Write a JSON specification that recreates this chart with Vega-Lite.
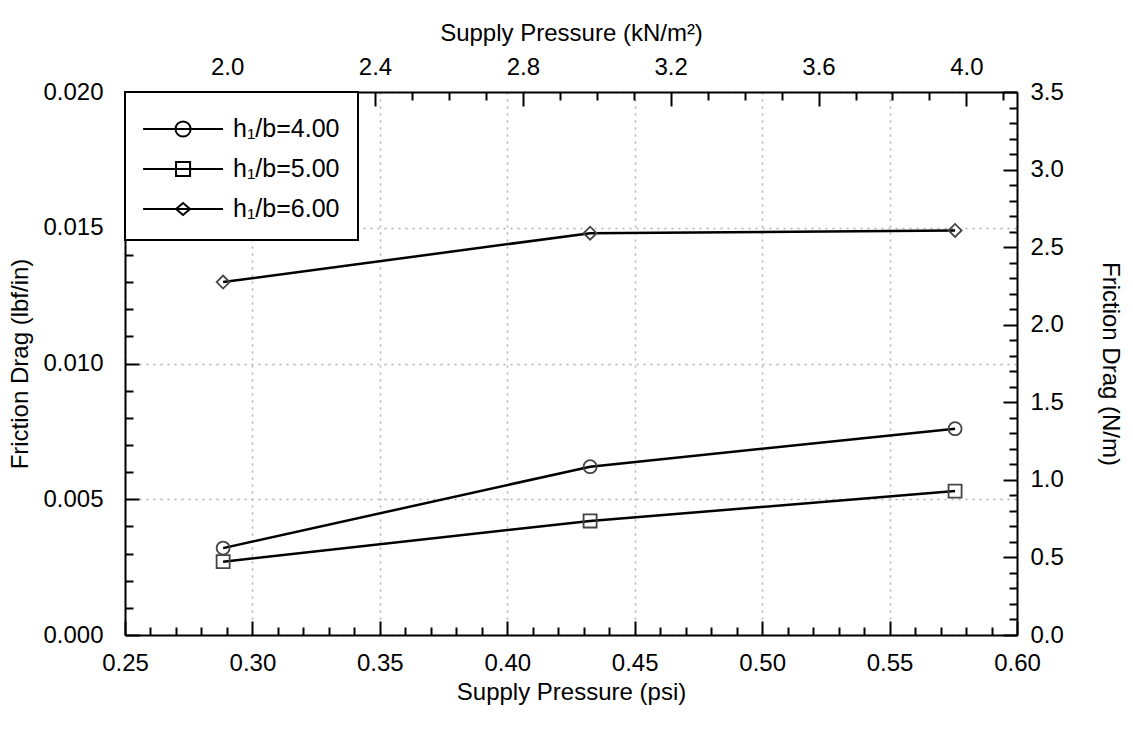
{
  "$schema": "https://vega.github.io/schema/vega-lite/v6.json",
  "width": 892,
  "height": 543,
  "autosize": {"type": "none"},
  "padding": {"left": 125, "top": 92, "right": 116, "bottom": 98},
  "background": "white",
  "config": {
    "view": {"stroke": null},
    "font": "Liberation Sans",
    "legend": {"strokeWidth": 2},
    "axis": {
      "labelFont": "Liberation Sans",
      "titleFont": "Liberation Sans",
      "labelFontSize": 24,
      "titleFontSize": 24,
      "titleFontWeight": "normal",
      "labelColor": "black",
      "titleColor": "black",
      "domainColor": "black",
      "domainWidth": 2,
      "tickColor": "black",
      "tickWidth": 2,
      "labelFlush": false,
      "labelOverlap": false,
      "gridColor": "#b0b0b0",
      "gridDash": [2, 5],
      "gridWidth": 1.5
    }
  },
  "data": {
    "values": [
      {"series": "h₁/b=4.00", "psi": 0.2885, "lbf": 0.0032, "kpa": 1.989, "nm": 0.560},
      {"series": "h₁/b=4.00", "psi": 0.4325, "lbf": 0.0062, "kpa": 2.982, "nm": 1.086},
      {"series": "h₁/b=4.00", "psi": 0.5757, "lbf": 0.0076, "kpa": 3.969, "nm": 1.331},
      {"series": "h₁/b=5.00", "psi": 0.2885, "lbf": 0.0027, "kpa": 1.989, "nm": 0.473},
      {"series": "h₁/b=5.00", "psi": 0.4325, "lbf": 0.0042, "kpa": 2.982, "nm": 0.736},
      {"series": "h₁/b=5.00", "psi": 0.5757, "lbf": 0.0053, "kpa": 3.969, "nm": 0.928},
      {"series": "h₁/b=6.00", "psi": 0.2885, "lbf": 0.0130, "kpa": 1.989, "nm": 2.277},
      {"series": "h₁/b=6.00", "psi": 0.4325, "lbf": 0.0148, "kpa": 2.982, "nm": 2.592},
      {"series": "h₁/b=6.00", "psi": 0.5757, "lbf": 0.0149, "kpa": 3.969, "nm": 2.609}
    ]
  },
  "layer": [
    {
      "mark": {"type": "line", "color": "black", "strokeWidth": 2.5},
      "encoding": {
        "x": {
          "field": "psi", "type": "quantitative",
          "scale": {"domain": [0.25, 0.6], "nice": false, "zero": false},
          "axis": {
            "orient": "bottom",
            "values": [0.25, 0.3, 0.35, 0.4, 0.45, 0.5, 0.55, 0.6],
            "format": ".2f",
            "tickSize": -14,
            "labelPadding": 30,
            "grid": true,
            "title": "Supply Pressure (psi)",
            "titlePadding": 5
          }
        },
        "y": {
          "field": "lbf", "type": "quantitative",
          "scale": {"domain": [0, 0.02], "nice": false, "zero": false},
          "axis": {
            "orient": "left",
            "values": [0, 0.005, 0.01, 0.015, 0.02],
            "format": ".3f",
            "tickSize": -14,
            "labelPadding": 36,
            "grid": true,
            "title": "Friction Drag (lbf/in)",
            "titlePadding": 10
          }
        },
        "detail": {"field": "series"}
      }
    },
    {
      "mark": {"type": "point", "filled": false, "stroke": "#444444", "strokeWidth": 1.8, "size": 170, "opacity": 1},
      "encoding": {
        "x": {
          "field": "psi", "type": "quantitative",
          "scale": {"domain": [0.25, 0.6], "nice": false, "zero": false},
          "axis": {
            "orient": "bottom",
            "values": [0.26, 0.27, 0.28, 0.29, 0.31, 0.32, 0.33, 0.34, 0.36, 0.37, 0.38, 0.39, 0.41, 0.42, 0.43, 0.44, 0.46, 0.47, 0.48, 0.49, 0.51, 0.52, 0.53, 0.54, 0.56, 0.57, 0.58, 0.59],
            "labels": false, "domain": false, "grid": false,
            "tickSize": -8, "title": null
          }
        },
        "y": {
          "field": "lbf", "type": "quantitative",
          "scale": {"domain": [0, 0.02], "nice": false, "zero": false},
          "axis": {
            "orient": "left",
            "values": [0.001, 0.002, 0.003, 0.004, 0.006, 0.007, 0.008, 0.009, 0.011, 0.012, 0.013, 0.014, 0.016, 0.017, 0.018, 0.019],
            "labels": false, "domain": false, "grid": false,
            "tickSize": -8, "title": null
          }
        },
        "shape": {
          "field": "series", "type": "nominal",
          "scale": {"range": ["circle", "square", "diamond"]},
          "legend": null
        }
      }
    },
    {
      "mark": {"type": "point", "filled": false, "size": 0},
      "encoding": {
        "x": {
          "field": "kpa", "type": "quantitative",
          "scale": {"domain": [1.7237, 4.1369], "nice": false, "zero": false},
          "axis": {
            "orient": "top",
            "values": [2.0, 2.4, 2.8, 3.2, 3.6, 4.0],
            "format": ".1f",
            "tickSize": -14,
            "labelPadding": 27,
            "grid": false,
            "title": "Supply Pressure (kN/m²)",
            "titlePadding": 10
          }
        },
        "y": {
          "field": "nm", "type": "quantitative",
          "scale": {"domain": [0, 3.5], "nice": false, "zero": false},
          "axis": {
            "orient": "right",
            "values": [0, 0.5, 1, 1.5, 2, 2.5, 3, 3.5],
            "format": ".1f",
            "tickSize": -14,
            "labelPadding": 27,
            "grid": false,
            "title": "Friction Drag (N/m)",
            "titlePadding": 34
          }
        },
        "shape": {
          "field": "series", "type": "nominal",
          "scale": {
            "range": [
              "M-1.05,0H3.39M0.75,0A0.42,0.42 0 1,1 1.59,0A0.42,0.42 0 1,1 0.75,0",
              "M-1.05,0H3.39M0.78,-0.39H1.56V0.39H0.78Z",
              "M-1.05,0H3.39M0.78,0L1.17,-0.33L1.56,0L1.17,0.33Z"
            ]
          },
          "legend": {
            "title": null,
            "orient": "top-left",
            "offset": 0,
            "padding": 18,
            "strokeColor": "black",
            "fillColor": "white",
            "symbolSize": 1296,
            "symbolStrokeColor": "black",
            "symbolFillColor": "transparent",
            "symbolStrokeWidth": 2,
            "symbolOpacity": 1,
            "labelFont": "Liberation Sans",
            "labelFontSize": 25,
            "labelColor": "black",
            "labelOffset": 52,
            "labelLimit": 300,
            "rowPadding": 8
          }
        }
      }
    },
    {
      "mark": {"type": "point", "filled": false, "size": 0},
      "encoding": {
        "x": {
          "field": "kpa", "type": "quantitative",
          "scale": {"domain": [1.7237, 4.1369], "nice": false, "zero": false},
          "axis": {
            "orient": "top",
            "values": [1.8, 1.9, 2.1, 2.2, 2.3, 2.5, 2.6, 2.7, 2.9, 3.0, 3.1, 3.3, 3.4, 3.5, 3.7, 3.8, 3.9, 4.1],
            "labels": false, "domain": false, "grid": false,
            "tickSize": -8, "title": null
          }
        },
        "y": {
          "field": "nm", "type": "quantitative",
          "scale": {"domain": [0, 3.5], "nice": false, "zero": false},
          "axis": {
            "orient": "right",
            "values": [0.1, 0.2, 0.3, 0.4, 0.6, 0.7, 0.8, 0.9, 1.1, 1.2, 1.3, 1.4, 1.6, 1.7, 1.8, 1.9, 2.1, 2.2, 2.3, 2.4, 2.6, 2.7, 2.8, 2.9, 3.1, 3.2, 3.3, 3.4],
            "labels": false, "domain": false, "grid": false,
            "tickSize": -8, "title": null
          }
        }
      }
    }
  ],
  "resolve": {
    "scale": {"x": "independent", "y": "independent", "shape": "independent"},
    "axis": {"x": "independent", "y": "independent"}
  }
}
